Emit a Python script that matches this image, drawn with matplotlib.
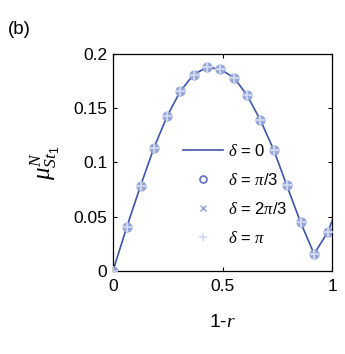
import matplotlib
matplotlib.use('Agg')
import matplotlib.pyplot as plt
from matplotlib.lines import Line2D

plt.rcParams['font.family'] = ['Liberation Sans', 'DejaVu Sans']
plt.rcParams['mathtext.fontset'] = 'custom'
plt.rcParams['mathtext.rm'] = 'Liberation Sans'
plt.rcParams['mathtext.it'] = 'Liberation Serif:italic'

# values
x_pts = [0, 0.0625, 0.126, 0.187, 0.247, 0.307, 0.368, 0.429, 0.49,
         0.553, 0.612, 0.673, 0.734, 0.793, 0.856, 0.918, 0.98]
y_pts = [0, 0.0403, 0.0786, 0.1136, 0.1426, 0.1656, 0.181, 0.1877, 0.186,
         0.178, 0.162, 0.139, 0.1115, 0.079, 0.045, 0.0157, 0.0357]
x_line = x_pts + [1.0]
y_line = y_pts + [0.046]

line_col = '#3c55a8'
fig = plt.figure(figsize=(3.45, 3.54), dpi=100)
ax = fig.add_axes([0.3275, 0.2345, 0.635, 0.613])

ax.plot(x_line, y_line, color=line_col, lw=1.2, zorder=1)
ax.plot(x_pts, y_pts, 'o', ms=6.5, mfc='#a7b4de', mec='#8fa0d6', mew=0.8, zorder=2)
ax.plot(x_pts, y_pts, 'x', ms=4.5, color='#8e9fd5', mew=1, zorder=3)
ax.plot(x_pts, y_pts, '+', ms=7.5, color='#d6ddf1', mew=1.2, zorder=4)

ax.set_xlim(0, 1)
ax.set_ylim(0, 0.2)
ax.set_xticks([0, 0.5, 1])
ax.set_xticklabels(['0', '0.5', '1'])
ax.set_yticks([0, 0.05, 0.1, 0.15, 0.2])
ax.set_yticklabels(['0', '0.05', '0.1', '0.15', '0.2'])
ax.tick_params(direction='in', top=True, right=True, length=3, width=0.8, labelsize=12.5, pad=4)
ax.tick_params(axis='x', pad=6)
for s in ax.spines.values():
    s.set_linewidth(0.9)

ax.set_xlabel('1-$\\it{r}$', fontsize=14, labelpad=14)
ax.set_ylabel('$\\mu^{N}_{St_1}$', fontsize=18, labelpad=8)

handles = [Line2D([], [], color=line_col, lw=1.2),
           Line2D([], [], ls='none', marker='o', ms=5, mfc='none', mec='#5a6fb8', mew=1.2),
           Line2D([], [], ls='none', marker='x', ms=4, color='#8e9fd5', mew=1),
           Line2D([], [], ls='none', marker='+', ms=6, color='#d0d8ef', mew=1.2)]
labels = ['$\\delta$ = 0', '$\\delta$ = $\\pi$/3', '$\\delta$ = 2$\\pi$/3', '$\\delta$ = $\\pi$']
ax.legend(handles, labels, loc='upper left', bbox_to_anchor=(0.28, 0.63), frameon=False,
          fontsize=12, handlelength=2.4, handletextpad=0.3, labelspacing=0.78, borderpad=0)

fig.text(0.022, 0.905, '(b)', fontsize=13.5)

fig.savefig('out.png', dpi=100)
